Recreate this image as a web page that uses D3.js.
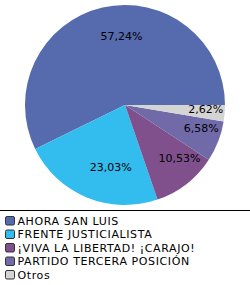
<!DOCTYPE html>
<html><head><meta charset="utf-8">
<script src="https://cdn.jsdelivr.net/npm/d3@7"></script>
<style>
html,body{margin:0;padding:0;background:#fff;}
svg{display:block;font-family:"DejaVu Sans",Verdana,sans-serif;}
</style></head>
<body>
<script>
const categories = ["AHORA SAN LUIS","FRENTE JUSTICIALISTA","¡VIVA LA LIBERTAD! ¡CARAJO!","PARTIDO TERCERA POSICIÓN","Otros"];
const values = [57.24, 23.03, 10.53, 6.58, 2.62];
const labels = ["57,24%","23,03%","10,53%","6,58%","2,62%"];
const colors = ["#566AAE","#33BDEE","#80508C","#706AA8","#D4D4D4"];

const W = 250, H = 285;
const cx = 125, cy = 105, R = 100;

const svg = d3.select("body").append("svg").attr("width", W).attr("height", H);

const pie = d3.pie().sort(null).value(d => d)
  .startAngle(Math.PI/2).endAngle(Math.PI/2 - 2*Math.PI);
const arcs = pie(values);
const arc = d3.arc().innerRadius(0).outerRadius(R);
const labelArc = d3.arc().innerRadius(R*0.69).outerRadius(R*0.69);

const g = svg.append("g").attr("transform", `translate(${cx},${cy})`);
g.selectAll("path").data(arcs).join("path")
  .attr("d", arc)
  .attr("fill", (d,i) => colors[i]);

g.selectAll("text").data(arcs).join("text")
  .attr("transform", d => { const [x,y] = labelArc.centroid(d); return `translate(${x+12},${y-1.7})`; })
  .attr("text-anchor","middle")
  .attr("dy","0.35em")
  .attr("font-size","11px")
  .attr("fill","#000")
  .text((d,i) => labels[i]);

svg.append("line").attr("x1",0).attr("x2",W).attr("y1",210.5).attr("y2",210.5)
  .attr("stroke","#000").attr("stroke-width",1);

const y = d3.scaleBand().domain(categories).range([216, 216 + 13.5*5]);
const lg = svg.append("g");
const item = lg.selectAll("g").data(categories).join("g")
  .attr("transform", d => `translate(0,${y(d)})`);
item.append("rect").attr("x",5.5).attr("y",0.5).attr("width",9).attr("height",8.5)
  .attr("rx",1.5).attr("fill",(d,i)=>colors[i]).attr("stroke","#333");
item.append("text").attr("x",17.5).attr("y",8.8)
  .attr("font-size","11px").attr("letter-spacing","0.6px").attr("fill","#000")
  .text(d => d);
</script>
</body></html>
